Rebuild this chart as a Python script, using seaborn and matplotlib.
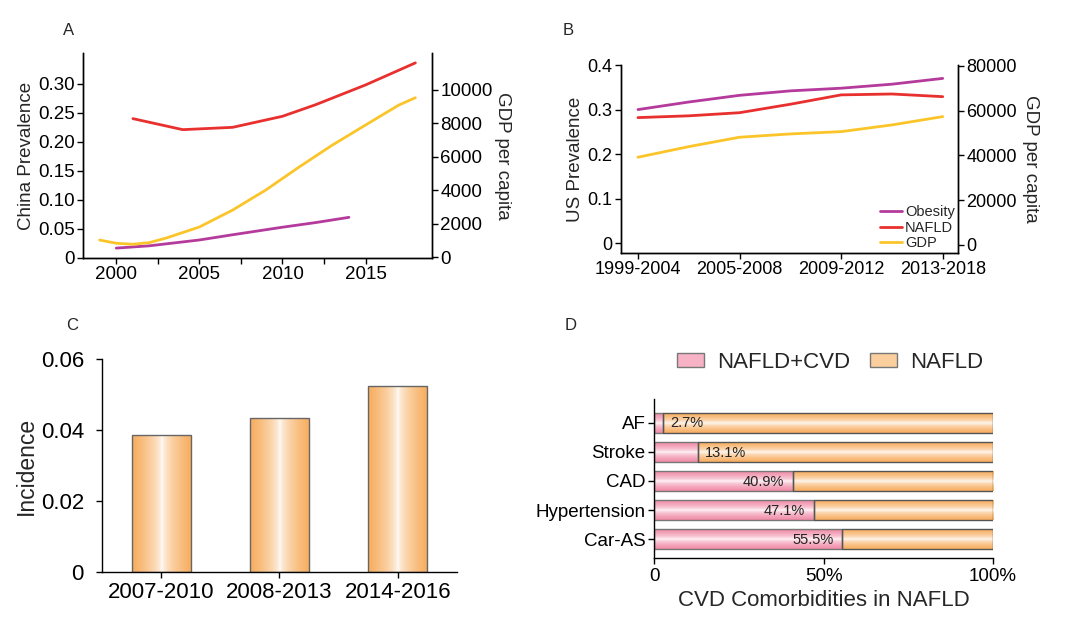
import numpy as np
import matplotlib
matplotlib.use('Agg')
import matplotlib.pyplot as plt
import matplotlib.colors as mcolors
from matplotlib.patches import Patch
import seaborn as sns

# --- data ---
# A: China
cn_nafld_years = [2001, 2004, 2007, 2010, 2012, 2015, 2018]
cn_nafld = [0.240, 0.221, 0.225, 0.244, 0.264, 0.298, 0.336]
cn_obesity_years = [2000, 2002, 2005, 2007, 2010, 2012, 2014]
cn_obesity = [0.017, 0.021, 0.031, 0.040, 0.053, 0.061, 0.070]
cn_gdp_years = [1999, 2000, 2001, 2002, 2003, 2005, 2007, 2009, 2011, 2013, 2015, 2017, 2018]
cn_gdp = [1030, 840, 780, 880, 1150, 1810, 2820, 4020, 5390, 6700, 7900, 9090, 9530]

# B: US (points at periods and half-way between)
us_periods = ['1999-2004', '2005-2008', '2009-2012', '2013-2018']
us_pos = [0, 0.5, 1, 1.5, 2, 2.5, 3]
us_obesity = [0.300, 0.317, 0.332, 0.342, 0.348, 0.357, 0.370]
us_nafld = [0.282, 0.286, 0.293, 0.312, 0.333, 0.335, 0.329]
us_gdp = [39150, 43880, 48080, 49550, 50580, 53570, 57280]

# C: incidence
inc_periods = ['2007-2010', '2008-2013', '2014-2016']
incidence = [0.0386, 0.0433, 0.0524]

# D: CVD comorbidities
cvd_cats = ['AF', 'Stroke', 'CAD', 'Hypertension', 'Car-AS']
cvd_pct = [2.7, 13.1, 40.9, 47.1, 55.5]

RED = '#e8302e'
YEL = '#fbc52a'
PUR = '#b43a9c'
ORANGE = '#f7ad5e'
PINK = '#f08aa6'

sns.set_style('ticks')
plt.rcParams['font.family'] = ['Liberation Sans', 'DejaVu Sans']
plt.rcParams['axes.linewidth'] = 1.0
plt.rcParams['xtick.major.width'] = 1.0
plt.rcParams['ytick.major.width'] = 1.0
plt.rcParams['xtick.major.size'] = 4
plt.rcParams['ytick.major.size'] = 4
plt.rcParams['axes.edgecolor'] = 'black'
plt.rcParams['xtick.color'] = 'black'
plt.rcParams['ytick.color'] = 'black'


def gradient(ax, patch, color, along_x):
    x0, y0 = patch.get_x(), patch.get_y()
    w, h = patch.get_width(), patch.get_height()
    t = np.linspace(0, 1, 64)
    f = (np.abs(t - 0.5) * 2) ** 0.55
    rgb = np.array(mcolors.to_rgb(color))
    col = 1 - (1 - rgb) * f[:, None]
    img = col[None, :, :] if along_x else col[:, None, :]
    im = ax.imshow(img, extent=[x0, x0 + w, y0, y0 + h], aspect='auto',
                   zorder=patch.get_zorder() - 0.1, interpolation='bilinear')
    im.set_clip_path(patch)
    patch.set_facecolor('none')


fig = plt.figure(figsize=(10.8, 6.2), dpi=100)

# ---------- A ----------
axA = fig.add_axes([0.0769, 0.5839, 0.3231, 0.3306])
axA2 = axA.twinx()
sns.lineplot(x=cn_nafld_years, y=cn_nafld, ax=axA, color=RED, lw=2)
sns.lineplot(x=cn_obesity_years, y=cn_obesity, ax=axA, color=PUR, lw=2)
sns.lineplot(x=cn_gdp_years, y=cn_gdp, ax=axA2, color=YEL, lw=2)
axA.set_xlim(1998, 2019)
axA.set_ylim(0.003, 0.353)
axA2.set_ylim(-40, 12200)
axA.set_xticks([2000, 2005, 2010, 2015])
axA.set_xticks([2002.5, 2007.5, 2012.5], minor=True)
axA.tick_params(axis='x', which='minor', length=4, width=1.0, bottom=True)
axA.set_yticks([0, 0.05, 0.10, 0.15, 0.20, 0.25, 0.30])
axA.set_yticklabels(['0', '0.05', '0.10', '0.15', '0.20', '0.25', '0.30'])
axA2.set_yticks([0, 2000, 4000, 6000, 8000, 10000])
axA2.set_yticklabels(['0', '2000', '4000', '6000', '8000', '10000'])
for a in (axA, axA2):
    a.tick_params(labelsize=13.5, pad=2)
    a.spines['top'].set_visible(False)
axA.set_ylabel('China Prevalence', fontsize=13.5, labelpad=2)
axA2.set_ylabel('GDP per capita', fontsize=13.5, rotation=270, labelpad=13)
axA.set_xlabel('')
fig.text(0.058, 0.943, 'A', fontsize=12)

# ---------- B ----------
axB = fig.add_axes([0.575, 0.5919, 0.312, 0.3032])
axB2 = axB.twinx()
sns.lineplot(x=us_pos, y=us_obesity, ax=axB, color=PUR, lw=2, label='Obesity', legend=False)
sns.lineplot(x=us_pos, y=us_nafld, ax=axB, color=RED, lw=2, label='NAFLD', legend=False)
sns.lineplot(x=us_pos, y=us_gdp, ax=axB2, color=YEL, lw=2, label='GDP', legend=False)
axB.set_xlim(-0.167, 3.15)
axB.set_ylim(-0.022, 0.4)
axB2.set_ylim(-3600, 80300)
axB.set_xticks(range(len(us_periods)))
axB.set_xticklabels(us_periods)
axB.set_yticks([0, 0.1, 0.2, 0.3, 0.4])
axB.set_yticklabels(['0', '0.1', '0.2', '0.3', '0.4'])
axB2.set_yticks([0, 20000, 40000, 60000, 80000])
axB2.set_yticklabels(['0', '20000', '40000', '60000', '80000'])
for a in (axB, axB2):
    a.tick_params(labelsize=13, pad=2)
    a.spines['top'].set_visible(False)
axB.set_ylabel('US Prevalence', fontsize=13.5, labelpad=3)
axB2.set_ylabel('GDP per capita', fontsize=13.5, rotation=270, labelpad=16)
h1, l1 = axB.get_legend_handles_labels()
h2, l2 = axB2.get_legend_handles_labels()
axB2.legend(h1 + h2, l1 + l2, loc='lower right', fontsize=10.5, frameon=False,
            handlelength=1.5, handletextpad=0.2, labelspacing=0.1,
            borderpad=0.1, borderaxespad=0.1)
fig.text(0.521, 0.943, 'B', fontsize=12)

# ---------- C ----------
axC = fig.add_axes([0.0944, 0.0774, 0.3287, 0.3435])
sns.barplot(x=inc_periods, y=incidence, ax=axC, color=ORANGE, width=0.5,
            edgecolor='#666666', linewidth=1.0)
for p in list(axC.patches):
    gradient(axC, p, ORANGE, True)
axC.set_xlim(-0.5, 2.5)
axC.set_ylim(0, 0.06)
axC.set_yticks([0, 0.02, 0.04, 0.06])
axC.set_yticklabels(['0', '0.02', '0.04', '0.06'])
axC.tick_params(axis='x', labelsize=16, pad=3)
axC.tick_params(axis='y', labelsize=16, pad=9)
axC.set_ylabel('Incidence', fontsize=16.5, labelpad=2)
sns.despine(ax=axC)
fig.text(0.061, 0.467, 'C', fontsize=12)

# ---------- D ----------
axD = fig.add_axes([0.6056, 0.10, 0.3139, 0.2565])
sns.barplot(x=cvd_pct, y=cvd_cats, orient='h', ax=axD, color=PINK, width=0.68,
            edgecolor='#777777', linewidth=1.0)
pink_patches = list(axD.patches)
rest = [100 - v for v in cvd_pct]
orange_bars = axD.barh(range(len(cvd_cats)), rest, left=cvd_pct, height=0.68,
                       color=ORANGE, edgecolor='#555555', linewidth=1.0)
for p in pink_patches:
    gradient(axD, p, PINK, False)
for p in orange_bars.patches:
    gradient(axD, p, ORANGE, False)
for i, v in enumerate(cvd_pct):
    if v < 20:
        axD.text(v + 2.0, i + 0.03, f'{v}%', va='center', ha='left', fontsize=10.5, color='#222222')
    else:
        axD.text(v - 2.5, i + 0.03, f'{v}%', va='center', ha='right', fontsize=10.5, color='#222222')
axD.set_xlim(0, 100)
axD.set_ylim(4.64, -0.81)
axD.set_xticks([0, 50, 100])
axD.set_xticklabels(['0', '50%', '100%'])
axD.tick_params(axis='x', labelsize=13.5, pad=3)
axD.tick_params(axis='y', labelsize=13.5, pad=2)
axD.set_xlabel('CVD Comorbidities in NAFLD', fontsize=16, labelpad=4)
axD.set_ylabel('')
sns.despine(ax=axD)
handles = [Patch(facecolor='#f7b3c5', edgecolor='#777777', lw=1.0),
           Patch(facecolor='#fbcf9d', edgecolor='#777777', lw=1.0)]
axD.legend(handles, ['NAFLD+CVD', 'NAFLD'], loc='center', bbox_to_anchor=(0.52, 1.23),
           ncol=2, fontsize=16, frameon=False, handlelength=1.2, handleheight=0.6,
           handletextpad=0.6, columnspacing=0.9)
fig.text(0.523, 0.467, 'D', fontsize=12)

plt.savefig('out.png', dpi=100)
